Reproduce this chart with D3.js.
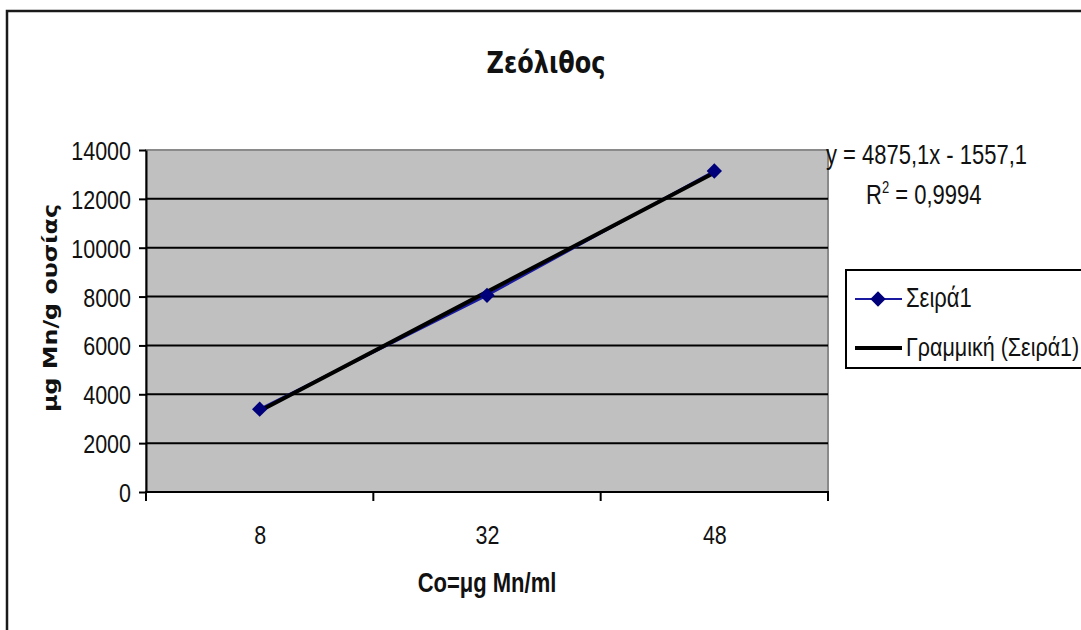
<!DOCTYPE html>
<html>
<head>
<meta charset="utf-8">
<script src="https://cdn.jsdelivr.net/npm/d3@7"></script>
<style>
  body { margin: 0; background: #fff; }
  text { font-family: "Liberation Sans", Arial, sans-serif; }
</style>
</head>
<body>
<svg id="chart"></svg>
<script>
// dados
var categories = ["8", "32", "48"];
var values = [3390, 8050, 13140];
var yTicks = [0, 2000, 4000, 6000, 8000, 10000, 12000, 14000];
var trendCoef = [4875.1, -1557.1];   // y = a*x + b, x = 1..n
var seriesName = "Σειρά1";
var trendName = "Γραμμική (Σειρά1)";
var chartTitle = "Ζεόλιθος";
var xTitle = "Co=μg Mn/ml";
var yTitle = "μg Mn/g ουσίας";

var width = 1081, height = 630;
var plot = {left: 146, top: 150, right: 828, bottom: 492};
var sy = 1.22;   // texto do original é esticado na vertical

var svg = d3.select("#chart")
  .attr("width", width)
  .attr("height", height);

// moldura externa
svg.append("rect")
  .attr("x", 7).attr("y", 11)
  .attr("width", 1100).attr("height", 700)
  .attr("fill", "#fff")
  .attr("stroke", "#1a1a1a")
  .attr("stroke-width", 2.5);

var x = d3.scaleBand().domain(categories).range([plot.left, plot.right]).padding(0);
var y = d3.scaleLinear().domain([0, 14000]).range([plot.bottom, plot.top]);

// área do gráfico
svg.append("rect")
  .attr("x", plot.left).attr("y", plot.top)
  .attr("width", plot.right - plot.left)
  .attr("height", plot.bottom - plot.top)
  .attr("fill", "#c0c0c0")
  .attr("stroke", "#8a8a8a")
  .attr("stroke-width", 2);

// linhas de grade
svg.append("g").selectAll("line")
  .data(yTicks.filter(function(d) { return d > 0 && d < 14000; }))
  .enter().append("line")
  .attr("x1", plot.left).attr("x2", plot.right)
  .attr("y1", function(d) { return y(d); })
  .attr("y2", function(d) { return y(d); })
  .attr("stroke", "#000")
  .attr("stroke-width", 2);

// eixo Y
var yAxisG = svg.append("g")
  .attr("transform", "translate(" + plot.left + ",0)")
  .call(d3.axisLeft(y).tickValues(yTicks).tickFormat(d3.format("d"))
    .tickSize(7).tickPadding(8).tickSizeOuter(0));
yAxisG.select(".domain").attr("stroke", "#000").attr("stroke-width", 2);
yAxisG.selectAll(".tick line").attr("stroke", "#000").attr("stroke-width", 2);
yAxisG.selectAll(".tick text")
  .attr("font-size", 21.5)
  .attr("fill", "#111")
  .attr("font-family", "Liberation Sans, Arial, sans-serif")
  .attr("dy", "0.36em")
  .attr("transform", "scale(1," + sy + ")");

// eixo X: rótulos no centro, marcas nos limites das categorias
var xAxisG = svg.append("g")
  .attr("transform", "translate(0," + plot.bottom + ")")
  .call(d3.axisBottom(d3.scalePoint().domain(categories).range([x(categories[0]) + x.bandwidth() / 2, x(categories[categories.length - 1]) + x.bandwidth() / 2]))
    .tickSize(0).tickPadding(36).tickSizeOuter(0));
xAxisG.select(".domain").remove();
xAxisG.selectAll(".tick text")
  .attr("font-size", 21.5)
  .attr("fill", "#111")
  .attr("font-family", "Liberation Sans, Arial, sans-serif")
  .attr("dy", null)
  .attr("y", 0)
  .attr("transform", "translate(0,52) scale(1," + sy + ")");

svg.append("line")
  .attr("x1", plot.left - 1).attr("x2", plot.right + 1)
  .attr("y1", plot.bottom).attr("y2", plot.bottom)
  .attr("stroke", "#000").attr("stroke-width", 2);

var bounds = categories.map(function(c) { return x(c); }).concat([plot.right]);
svg.append("g").selectAll("line")
  .data(bounds)
  .enter().append("line")
  .attr("x1", function(d) { return d; }).attr("x2", function(d) { return d; })
  .attr("y1", plot.bottom).attr("y2", plot.bottom + 9)
  .attr("stroke", "#000").attr("stroke-width", 2);

// série
var cx = function(i) { return x(categories[i]) + x.bandwidth() / 2; };
var line = d3.line()
  .x(function(d, i) { return cx(i); })
  .y(function(d) { return y(d); });

svg.append("path")
  .datum(values)
  .attr("d", line)
  .attr("fill", "none")
  .attr("stroke", "#1a1aa0")
  .attr("stroke-width", 2.5);

// linha de tendência
var trend = categories.map(function(c, i) { return trendCoef[0] * (i + 1) + trendCoef[1]; });
svg.append("path")
  .datum(trend)
  .attr("d", line)
  .attr("fill", "none")
  .attr("stroke", "#000")
  .attr("stroke-width", 4);

var diamond = d3.symbol().type(d3.symbolDiamond2).size(150);
svg.append("g").selectAll("path")
  .data(values)
  .enter().append("path")
  .attr("d", diamond)
  .attr("transform", function(d, i) { return "translate(" + cx(i) + "," + y(d) + ")"; })
  .attr("fill", "#00007a");

// títulos
function label(txt, tx, ty, opts) {
  var t = svg.append("text")
    .attr("transform", "translate(" + tx + "," + ty + ")" + (opts.rotate ? " rotate(-90)" : "") + " scale(" + (opts.rotate ? sy + ",1" : "1," + sy) + ")")
    .attr("text-anchor", opts.anchor || "middle")
    .attr("font-size", opts.size)
    .attr("font-weight", opts.bold ? "bold" : "normal")
    .attr("fill", "#111")
    .text(txt);
  if (opts.family) t.style("font-family", opts.family);
  return t;
}

label(chartTitle, 546, 73, {size: 24, bold: true, family: "'DejaVu Sans', Verdana, sans-serif"});
label(xTitle, 487, 592, {size: 22, bold: true});
label(yTitle, 57, 308, {size: 19.5, bold: true, rotate: true, family: "'DejaVu Sans', Verdana, sans-serif"});

label("y = " + String(trendCoef[0]).replace(".", ",") + "x - " + String(-trendCoef[1]).replace(".", ","), 826, 164, {size: 22, anchor: "start"});
var r2 = label("R", 866, 204, {size: 22, anchor: "start"});
r2.append("tspan").attr("font-size", 13).attr("dy", -9).text("2");
r2.append("tspan").attr("dy", 9).text(" = 0,9994");

// legenda
var legend = svg.append("g").attr("transform", "translate(846,270)");
legend.append("rect")
  .attr("width", 300).attr("height", 98)
  .attr("fill", "#fff")
  .attr("stroke", "#000")
  .attr("stroke-width", 2);

legend.append("line")
  .attr("x1", 9).attr("x2", 56).attr("y1", 29).attr("y2", 29)
  .attr("stroke", "#1a1aa0").attr("stroke-width", 2);
legend.append("path")
  .attr("d", diamond)
  .attr("transform", "translate(32,29)")
  .attr("fill", "#00007a");
legend.append("line")
  .attr("x1", 9).attr("x2", 56).attr("y1", 78).attr("y2", 78)
  .attr("stroke", "#000").attr("stroke-width", 4);

legend.append("text")
  .attr("transform", "translate(60,37) scale(1," + sy + ")")
  .attr("font-size", 22).attr("fill", "#111")
  .text(seriesName);
legend.append("text")
  .attr("transform", "translate(60,86) scale(1," + sy + ")")
  .attr("font-size", 21.5).attr("fill", "#111")
  .text(trendName);
</script>
</body>
</html>
